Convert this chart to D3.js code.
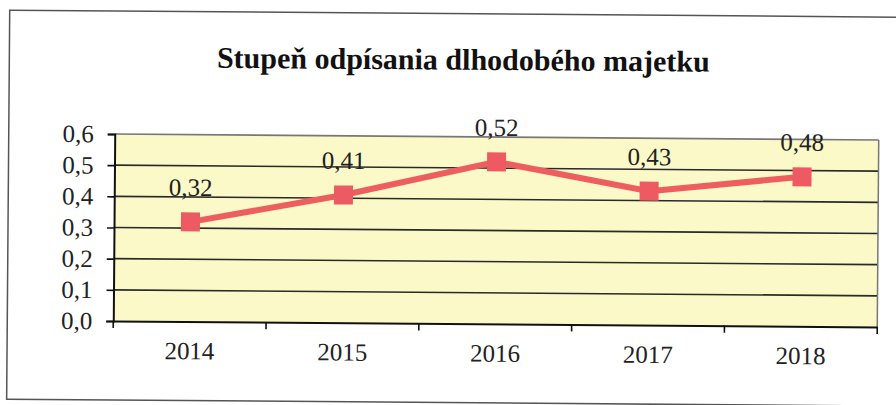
<!DOCTYPE html>
<html><head><meta charset="utf-8">
<script src="https://cdn.jsdelivr.net/npm/d3@7"></script>
<style>html,body{margin:0;padding:0;background:#fff;}svg{display:block;}</style>
</head><body>
<svg id="c" width="896" height="405"></svg>
<script>
const years = ["2014","2015","2016","2017","2018"];
const values = [0.32, 0.41, 0.52, 0.43, 0.48];
const yTicks = [0, 0.1, 0.2, 0.3, 0.4, 0.5, 0.6];
const title = "Stupeň odpísania dlhodobého majetku";

const W = 896, H = 405;
const m = {left:114, right:878, top:137, bottom:324};
const svg = d3.select("#c");
const g = svg.append("g").attr("transform","rotate(0.45,496,230)");
const font = "'Liberation Serif','Times New Roman',serif";
const fmt = v => d3.format(".1f")(v).replace(".", ",");
const fmt2 = v => d3.format(".2f")(v).replace(".", ",");

// chart frame
g.append("rect").attr("x",8).attr("y",14).attr("width",W+20).attr("height",389)
 .attr("fill","none").attr("stroke","#555").attr("stroke-width",1.5);

g.append("text").attr("x",462).attr("y",70).attr("text-anchor","middle")
 .attr("font-family",font).attr("font-weight","bold").attr("font-size",30)
 .attr("fill","#111").text(title);

const x = d3.scaleBand().domain(years).range([m.left,m.right]);
const y = d3.scaleLinear().domain([0,0.6]).range([m.bottom,m.top]);

g.append("rect").attr("x",m.left).attr("y",m.top).attr("width",m.right-m.left).attr("height",m.bottom-m.top)
 .attr("fill","#fcf9c8");

// gridlines
g.append("g").selectAll("line").data(yTicks.filter(d=>d>0)).join("line")
 .attr("x1",m.left).attr("x2",m.right).attr("y1",d=>y(d)).attr("y2",d=>y(d))
 .attr("stroke",d=>d===0.6?"#777":"#2a2a2a").attr("stroke-width",1.6);
g.append("line").attr("x1",m.right).attr("x2",m.right).attr("y1",m.top).attr("y2",m.bottom)
 .attr("stroke","#777").attr("stroke-width",1.5);

// y axis
const ya = g.append("g").attr("transform",`translate(${m.left},0)`)
 .call(d3.axisLeft(y).tickValues(yTicks).tickFormat(fmt).tickSize(7).tickPadding(14));
ya.select(".domain").attr("stroke","#111").attr("stroke-width",2);
ya.selectAll(".tick line").attr("stroke","#111").attr("stroke-width",1.6);
ya.selectAll("text").attr("font-family",font).attr("font-size",25).attr("fill","#222");

// x axis
const xa = g.append("g").attr("transform",`translate(0,${m.bottom})`)
 .call(d3.axisBottom(x).tickSize(0).tickPadding(20));
xa.select(".domain").attr("stroke","#111").attr("stroke-width",2);
xa.selectAll("text").attr("font-family",font).attr("font-size",25).attr("fill","#222");
xa.append("g").selectAll("line").data(years.map(d=>x(d)).concat([m.right])).join("line")
 .attr("x1",d=>d).attr("x2",d=>d).attr("y1",0).attr("y2",7).attr("stroke","#111").attr("stroke-width",1.6);

// line
const cx = d => x(d) + x.bandwidth()/2;
const pts = years.map((d,i)=>({year:d,v:values[i]}));
g.append("path").datum(pts)
 .attr("d", d3.line().x(d=>cx(d.year)).y(d=>y(d.v)))
 .attr("fill","none").attr("stroke","#ee5e5e").attr("stroke-width",6);
const s = 19;
g.append("g").selectAll("rect").data(pts).join("rect")
 .attr("x",d=>cx(d.year)-s/2).attr("y",d=>y(d.v)-s/2).attr("width",s).attr("height",s)
 .attr("fill","#ee5a62");
g.append("g").selectAll("text").data(pts).join("text")
 .attr("x",d=>cx(d.year)).attr("y",d=>y(d.v)-26).attr("text-anchor","middle")
 .attr("font-family",font).attr("font-size",25).attr("fill","#222")
 .text(d=>fmt2(d.v));
</script>
</body></html>
